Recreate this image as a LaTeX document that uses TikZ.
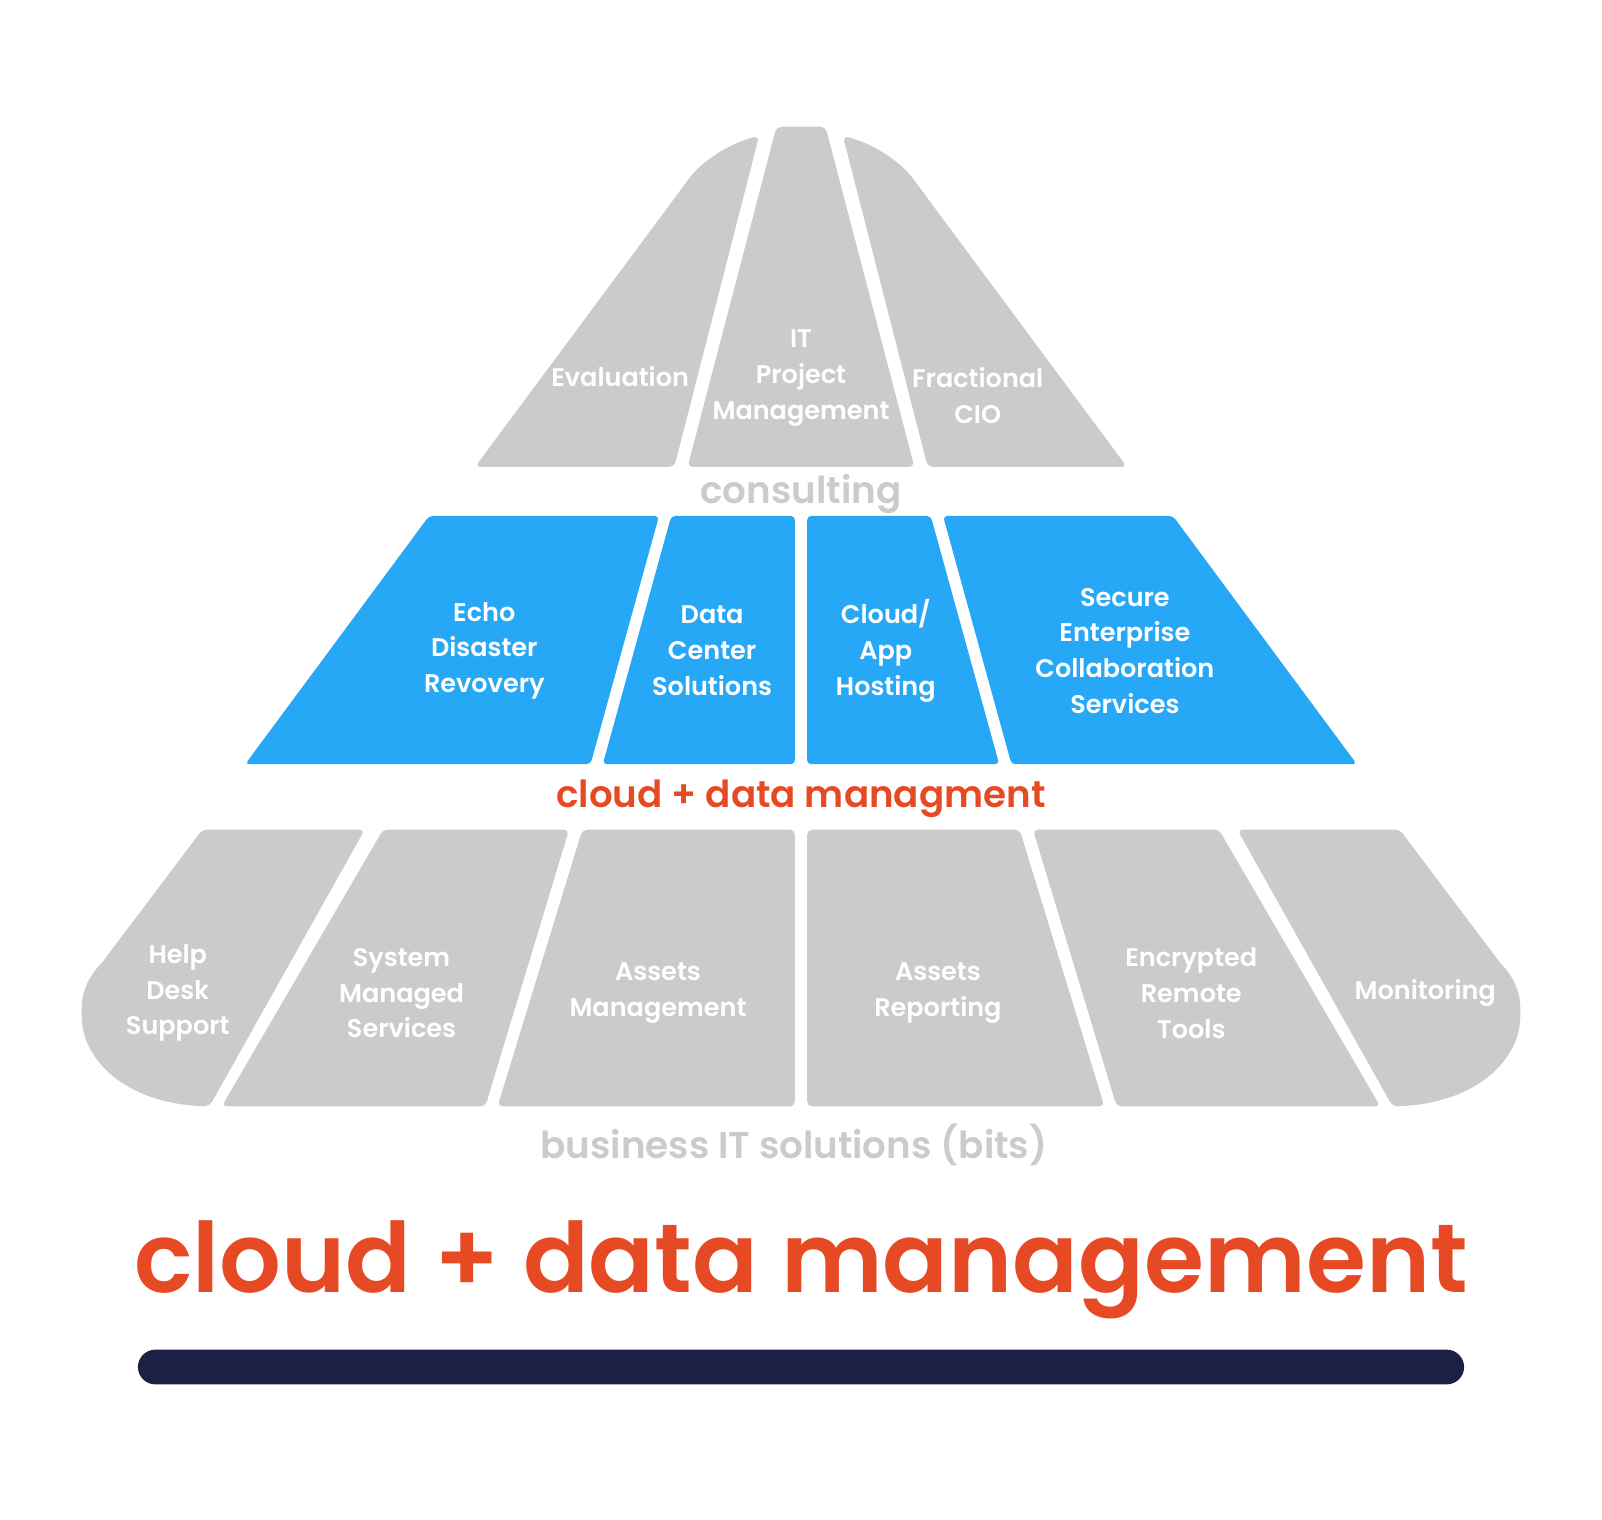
\documentclass[tikz,border=0pt]{standalone}
\usepackage{fontspec}
\setmainfont{Poppins}
\newfontfamily\semibold{Poppins SemiBold}
\usetikzlibrary{positioning}

\definecolor{tilegray}{HTML}{CCCBC9}
\definecolor{tileblue}{HTML}{27A8F6}
\definecolor{brandorange}{HTML}{E64A24}
\definecolor{barnavy}{HTML}{1E1F45}

\begin{document}
\begin{tikzpicture}[
        x=1pt, y=-1pt,
        tile/.style={fill=tilegray, rounded corners=5pt},
        cloudtile/.style={fill=tileblue, rounded corners=4pt},
        tiletext/.style={text=white, align=center, inner sep=0pt, font=\semibold\fontsize{25}{35}\selectfont},
        tiername/.style={inner sep=0pt, font=\semibold\fontsize{36.5}{36.5}\selectfont}
    ]
        \useasboundingbox (0,0) rectangle (1568,1487);

        % consulting
        \fill[tile] (465,457) -- (660,457) -- (743,133) .. controls (715,140) and (693,155) .. (678,170) -- cycle;
        \fill[tile] (673,457) -- (895,457) -- (808,124) -- (760,124) -- cycle;
        \fill[tile] (908,457) -- (1103,457) -- (890,170) .. controls (875,155) and (853,140) .. (825,133) -- cycle;

        \node [tiletext] (eval) at (607,369) {Evaluation};
        \node [tiletext] (itpm) at (784,370) {IT\\Project\\Management};
        \node [tiletext] (fcio) at (957,387) {Fractional\\CIO};
        \node [tiername, text=tilegray] (consult) at (784,483) {consulting};

        % cloud + data
        \fill[cloudtile] (240,748) -- (420,505) -- (645,505) -- (578,748) -- cycle;
        \fill[cloudtile] (590,748) -- (657,505) -- (778,505) -- (778,748) -- cycle;
        \fill[cloudtile] (790,748) -- (790,505) -- (911,505) -- (978,748) -- cycle;
        \fill[cloudtile] (990,748) -- (923,505) -- (1148,505) -- (1328,748) -- cycle;

        \node [tiletext] (echo) at (474,637) {Echo\\Disaster\\Revovery};
        \node [tiletext] (dcs) at (697,637) {Data\\Center\\Solutions};
        \node [tiletext] (cah) at (867,637) {Cloud/\\App\\Hosting};
        \node [tiletext] (sec) at (1101,637) {Secure\\Enterprise\\Collaboration\\Services};
        \node [tiername, text=brandorange] (cdm) at (784,782) {cloud + data managment};

        % bits
        \fill[tile] (198,812) -- (357,812) -- (205,1083) .. controls (120,1080) and (80,1035) .. (80,990) .. controls (80,970) and (88,955) .. (100,942) -- cycle;
        \fill[tile] (217,1083) -- (375,812) -- (557,812) -- (475,1083) -- cycle;
        \fill[tile] (487,1083) -- (570,812) -- (778,812) -- (778,1083) -- cycle;
        \fill[tile] (790,1083) -- (790,812) -- (998,812) -- (1081,1083) -- cycle;
        \fill[tile] (1093,1083) -- (1011,812) -- (1193,812) -- (1351,1083) -- cycle;
        \fill[tile] (1370,812) -- (1211,812) -- (1363,1083) .. controls (1448,1080) and (1488,1035) .. (1488,990) .. controls (1488,970) and (1480,955) .. (1468,942) -- cycle;

        \node [tiletext] (hds) at (174,972) {Help\\Desk\\Support};
        \node [tiletext] (sms) at (393,972) {System\\Managed\\Services};
        \node [tiletext] (am) at (644,972) {Assets\\Management};
        \node [tiletext] (ar) at (918,972) {Assets\\Reporting};
        \node [tiletext] (ert) at (1166,972) {Encrypted\\Remote\\Tools};
        \node [tiletext] (mon) at (1395,972) {Monitoring};
        \node [tiername, text=tilegray] (bits) at (777,1121) {business IT solutions (bits)};

        % title + bar
        \node [inner sep=0pt, text=brandorange, font=\semibold\fontsize{95}{95}\selectfont] (title) at (784,1243) {cloud + data management};
        \fill[barnavy, rounded corners=17pt] (135,1321) rectangle (1433,1355);
    \end{tikzpicture}
\end{document}
